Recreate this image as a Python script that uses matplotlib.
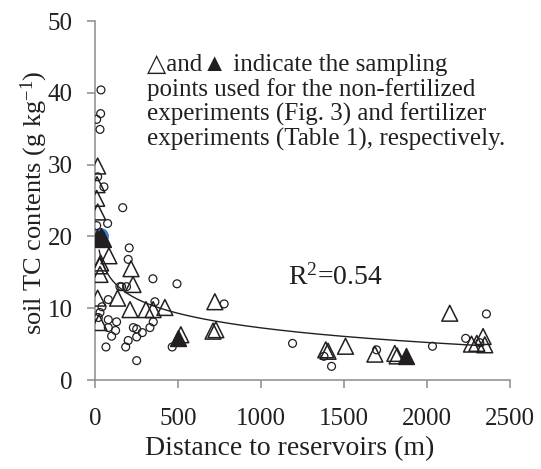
"""Soil TC contents against distance to reservoirs, with log trendline."""

import numpy as np
import matplotlib
matplotlib.use("Agg")
import matplotlib.pyplot as plt

plt.rcParams["font.family"] = ["Liberation Serif", "DejaVu Serif"]
plt.rcParams["mathtext.fontset"] = "custom"
plt.rcParams["mathtext.rm"] = "Liberation Serif"
plt.rcParams["mathtext.it"] = "Liberation Serif:italic"

INK = "#231f20"
AXIS = "#8c8c8c"

# all sampling points (circles)
circle_x = [36, 34, 10, 30, 16, 54, 167, 10, 76, 206, 200, 150, 160, 190, 349,
            494, 80, 42, 361, 30, 20, 80, 130, 80, 124, 100, 231, 251, 285, 331,
            351, 251, 200, 185, 66, 251, 465, 778, 1190, 1379, 1425, 1696, 2033,
            2358, 2233, 2318]
circle_y = [40.4, 37.1, 36.3, 34.9, 28.3, 26.9, 24.0, 21.5, 21.8, 18.4, 16.8, 13.0,
            13.0, 13.0, 14.1, 13.4, 11.2, 10.2, 10.9, 9.4, 8.7, 8.4, 8.1, 7.3, 6.9,
            6.1, 7.3, 7.1, 6.6, 7.3, 8.1, 6.0, 5.5, 4.6, 4.6, 2.7, 4.6, 10.6, 5.1,
            3.3, 1.9, 4.2, 4.7, 9.2, 5.8, 5.2]

# non-fertilized experiment points (open triangles)
open_x = [16, 12, 10, 16, 84, 34, 28, 217, 30, 229, 16, 136, 211, 307, 350, 421,
          24, 517, 722, 711, 728, 1390, 1404, 1509, 1686, 1806, 1820, 2137, 2268,
          2300, 2338, 2348]
open_y = [29.8, 27.2, 25.3, 23.4, 17.3, 16.3, 15.9, 15.5, 14.7, 13.3, 11.4, 11.4,
          9.8, 9.8, 9.8, 10.1, 8.0, 6.3, 10.9, 6.8, 7.0, 4.2, 4.0, 4.7, 3.6, 3.7,
          3.35, 9.3, 5.0, 5.1, 6.05, 4.9]

# fertilizer experiment points (filled triangles)
filled_x = [15, 35, 50, 498, 1872]
filled_y = [19.8, 20.0, 19.6, 5.9, 3.35]

# highlighted point behind the fertilizer cluster
marked_x = [30]
marked_y = [20.0]

# logarithmic trendline y = a - b ln(x)
FIT_A = 27.5
FIT_B = 2.93
FIT_RANGE = (25, 2340)
R2_TEXT = "R$^{2}$=0.54"

fig = plt.figure(figsize=(5.41, 4.69), dpi=100)
ax = fig.add_axes([95 / 541, 89 / 469, 415 / 541, 359 / 469])

fit_x = np.linspace(FIT_RANGE[0], FIT_RANGE[1], 400)
fit_y = FIT_A - FIT_B * np.log(fit_x)
ax.plot(fit_x, fit_y, color=INK, lw=1.0, zorder=2)

ax.scatter(marked_x, marked_y, s=150, marker="o", color="#3f7fd0", lw=0, zorder=2)
ax.scatter(circle_x, circle_y, s=32, marker="o", facecolors="none",
           edgecolors=INK, linewidths=0.9, zorder=3)
ax.scatter(open_x, open_y, s=130, marker="^", facecolors="none",
           edgecolors=INK, linewidths=1.1, zorder=4)
ax.scatter(filled_x, filled_y, s=130, marker="^", facecolors=INK,
           edgecolors=INK, linewidths=1.1, zorder=5)

ax.set_xlim(0, 2500)
ax.set_ylim(0, 50)
ax.set_xticks(range(0, 2501, 500))
ax.set_yticks(range(0, 51, 10))
ax.tick_params(direction="out", length=6, width=1.1, color=AXIS,
               labelsize=18, labelcolor=INK)
ax.tick_params(axis="y", pad=10)
ax.tick_params(axis="x", pad=14)
for side in ("top", "right"):
    ax.spines[side].set_visible(False)
for side in ("left", "bottom"):
    ax.spines[side].set_color(AXIS)
    ax.spines[side].set_linewidth(1.1)

ax.set_xlabel("Distance to reservoirs (m)", fontsize=20, color=INK)
ax.xaxis.set_label_coords((290 - 95) / 415, -(449 - 380) / 359)
ax.xaxis.label.set_va("center")
ax.set_ylabel("soil TC contents (g kg$^{-1}$)", fontsize=19, color=INK)
ax.yaxis.set_label_coords(-(95 - 34) / 415, (380 - 203) / 359)
ax.yaxis.label.set_va("center")

ax.text((288 - 95) / 415, (380 - 285) / 359, R2_TEXT, transform=ax.transAxes,
        fontsize=20, color=INK, va="baseline")

note = ("\u25b3and\u25b2 indicate the sampling\n"
        "points used for the non-fertilized\n"
        "experiments (Fig. 3) and fertilizer\n"
        "experiments (Table 1), respectively.")
fig.text(147 / 541, 1 - 54 / 469, note, fontsize=18, color=INK, va="top",
         ha="left", linespacing=1.1,
         family=["Liberation Serif", "DejaVu Sans"])

fig.savefig("out.png", dpi=100)
